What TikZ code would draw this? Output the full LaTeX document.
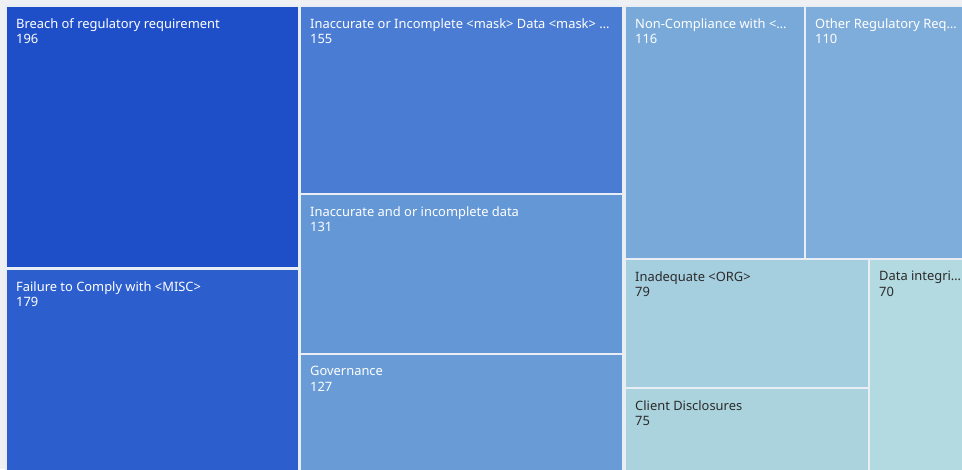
\documentclass[tikz,border=0pt]{standalone}
\usepackage{fontspec}
\setmainfont{Noto Sans}
\usetikzlibrary{positioning}
\definecolor{bgrey}{HTML}{EEF0F3}
\definecolor{gapline}{HTML}{E8EEF4}
\definecolor{tbreach}{HTML}{1F4FC8}
\definecolor{tfailure}{HTML}{2C5FCD}
\definecolor{tincomplete}{HTML}{4A7CD3}
\definecolor{tandor}{HTML}{6497D6}
\definecolor{tgovern}{HTML}{699CD6}
\definecolor{tnoncomp}{HTML}{78A9D9}
\definecolor{tother}{HTML}{7FADDB}
\definecolor{tinadequate}{HTML}{A5CEDF}
\definecolor{tclient}{HTML}{ABD3DE}
\definecolor{tintegrity}{HTML}{B2DAE0}
\definecolor{darktext}{HTML}{2B2B2B}

\begin{document}
\begin{tikzpicture}[x=1pt, y=-1pt,
        tile/.style={draw=gapline, line width=2pt, anchor=north west, inner sep=0pt},
        caption/.style={anchor=north west, align=left, inner sep=0pt, text=white,
                        font=\fontsize{12.9}{15.5}\selectfont},
        darkcaption/.style={caption, text=darktext}]
        \fill[bgrey] (0,0) rectangle (962,469);
        \useasboundingbox (0,0) rectangle (962,469);

        % left column
        \node[tile, fill=tbreach, minimum width=293pt, minimum height=262pt] (breach) at (5,5) {};
        \node[tile, fill=tfailure, minimum width=293pt, minimum height=205pt] (failure) at (5,268) {};

        % middle column
        \node[tile, fill=tincomplete, minimum width=323pt, minimum height=188pt] (incomplete) at (299,5) {};
        \node[tile, fill=tandor, minimum width=323pt, minimum height=160pt] (andor) at (299,193) {};
        \node[tile, fill=tgovern, minimum width=323pt, minimum height=120pt] (govern) at (299,353) {};

        % right block
        \node[tile, fill=tnoncomp, minimum width=180pt, minimum height=253pt] (noncomp) at (624,5) {};
        \node[tile, fill=tother, minimum width=160pt, minimum height=253pt] (other) at (804,5) {};
        \node[tile, fill=tinadequate, minimum width=244pt, minimum height=129pt] (inadequate) at (624,258) {};
        \node[tile, fill=tclient, minimum width=244pt, minimum height=85pt] (client) at (624,387) {};
        \node[tile, fill=tintegrity, minimum width=96pt, minimum height=214pt] (integrity) at (868,258) {};

        % labels
        \node[caption] (breach-t) at ([shift={(11,13)}]breach.north west) {Breach of regulatory requirement\\196};
        \node[caption] (failure-t) at ([shift={(11,13)}]failure.north west) {Failure to Comply with <MISC>\\179};
        \node[caption] (incomplete-t) at ([shift={(11,13)}]incomplete.north west) {Inaccurate or Incomplete <mask> Data <mask> \dots\\155};
        \node[caption] (andor-t) at ([shift={(11,13)}]andor.north west) {Inaccurate and or incomplete data\\131};
        \node[caption] (govern-t) at ([shift={(11,13)}]govern.north west) {Governance\\127};
        \node[caption] (noncomp-t) at ([shift={(11,13)}]noncomp.north west) {Non-Compliance with <\dots\\116};
        \node[caption] (other-t) at ([shift={(11,13)}]other.north west) {Other Regulatory Req\dots\\110};
        \node[darkcaption] (inadequate-t) at ([shift={(11,13)}]inadequate.north west) {Inadequate <ORG>\\79};
        \node[darkcaption] (client-t) at ([shift={(11,13)}]client.north west) {Client Disclosures\\75};
        \node[darkcaption] (integrity-t) at ([shift={(11,13)}]integrity.north west) {Data integri\dots\\70};
\end{tikzpicture}
\end{document}
